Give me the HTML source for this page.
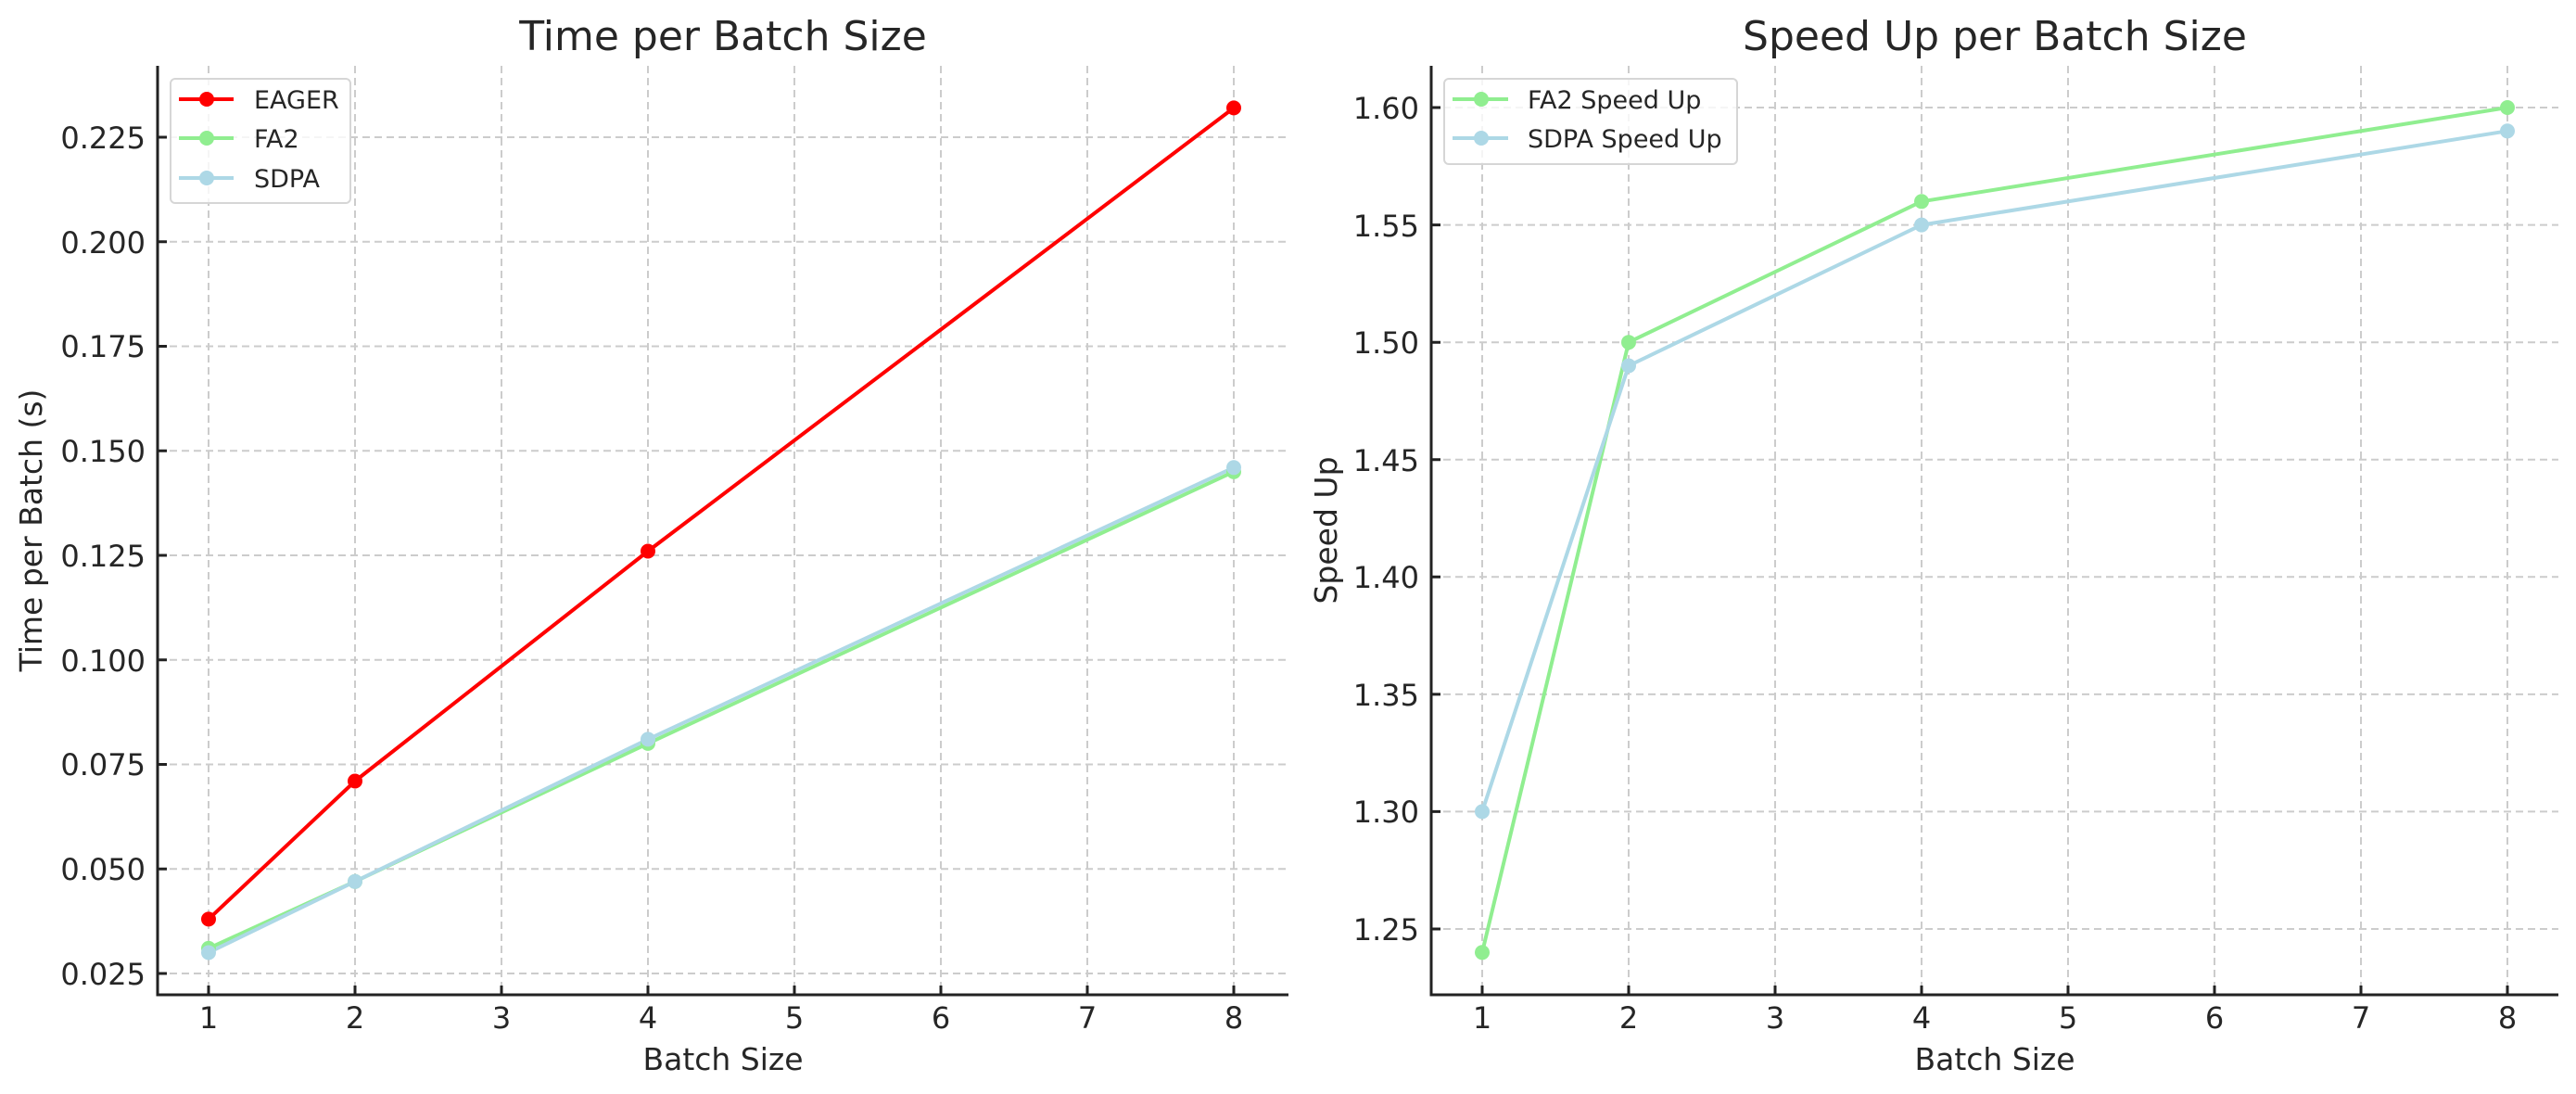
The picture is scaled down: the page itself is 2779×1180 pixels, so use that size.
<!DOCTYPE html>
<html><head><meta charset="utf-8"><style>html,body{margin:0;padding:0;background:#fff}svg{display:block}text{font-family:"DejaVu Sans","Liberation Sans",sans-serif;fill:#262626}</style></head><body>
<svg width="2779" height="1180" viewBox="0 0 2779 1180" xmlns="http://www.w3.org/2000/svg">
<g stroke="#cccccc" stroke-width="2" stroke-dasharray="8,5" fill="none">
<path d="M225 71V1073M383 71V1073M541 71V1073M699 71V1073M857 71V1073M1015 71V1073M1173 71V1073M1331 71V1073"/>
<path d="M170 1050H1390M170 937.25H1390M170 824.5H1390M170 711.75H1390M170 599H1390M170 486.25H1390M170 373.5H1390M170 260.75H1390M170 148H1390"/>
<path d="M1599 71V1073M1757 71V1073M1915 71V1073M2073 71V1073M2231 71V1073M2389 71V1073M2547 71V1073M2705 71V1073"/>
<path d="M1544 1002H2760M1544 875.4H2760M1544 748.9H2760M1544 622.3H2760M1544 495.7H2760M1544 369.2H2760M1544 242.6H2760M1544 116H2760"/>
</g>
<g stroke="#222" stroke-width="3" fill="none">
<path d="M170 71V1073H1390"/>
<path d="M1544 71V1073H2760"/>
<path d="M170 1050h10M170 937.25h10M170 824.5h10M170 711.75h10M170 599h10M170 486.25h10M170 373.5h10M170 260.75h10M170 148h10"/>
<path d="M225 1073v-10M383 1073v-10M541 1073v-10M699 1073v-10M857 1073v-10M1015 1073v-10M1173 1073v-10M1331 1073v-10"/>
<path d="M1544 1002h10M1544 875.4h10M1544 748.9h10M1544 622.3h10M1544 495.7h10M1544 369.2h10M1544 242.6h10M1544 116h10"/>
<path d="M1599 1073v-10M1757 1073v-10M1915 1073v-10M2073 1073v-10M2231 1073v-10M2389 1073v-10M2547 1073v-10M2705 1073v-10"/>
</g>
<!-- left series -->
<g stroke-width="4" fill="none" stroke-linejoin="round">
<polyline stroke="#ff0000" points="225,991.4 383,842.5 699,594.5 1331,116.4"/>
<polyline stroke="#90ee90" points="225,1022.9 383,950.8 699,801.9 1331,508.8"/>
<polyline stroke="#add8e6" points="225,1027.5 383,950.8 699,797.4 1331,504.3"/>
<polyline stroke="#90ee90" points="1599,1027.3 1757,369.2 2073,217.3 2705,116"/>
<polyline stroke="#add8e6" points="1599,875.4 1757,394.5 2073,242.6 2705,141.3"/>
</g>
<g fill="#ff0000"><circle cx="225" cy="991.4" r="8"/><circle cx="383" cy="842.5" r="8"/><circle cx="699" cy="594.5" r="8"/><circle cx="1331" cy="116.4" r="8"/></g>
<g fill="#90ee90"><circle cx="225" cy="1022.9" r="8"/><circle cx="383" cy="950.8" r="8"/><circle cx="699" cy="801.9" r="8"/><circle cx="1331" cy="508.8" r="8"/></g>
<g fill="#add8e6"><circle cx="225" cy="1027.5" r="8"/><circle cx="383" cy="950.8" r="8"/><circle cx="699" cy="797.4" r="8"/><circle cx="1331" cy="504.3" r="8"/></g>
<g fill="#90ee90"><circle cx="1599" cy="1027.3" r="8"/><circle cx="1757" cy="369.2" r="8"/><circle cx="2073" cy="217.3" r="8"/><circle cx="2705" cy="116" r="8"/></g>
<g fill="#add8e6"><circle cx="1599" cy="875.4" r="8"/><circle cx="1757" cy="394.5" r="8"/><circle cx="2073" cy="242.6" r="8"/><circle cx="2705" cy="141.3" r="8"/></g>
<!-- tick labels -->
<g font-size="32" text-anchor="end">
<text x="157" y="1062">0.025</text><text x="157" y="949">0.050</text><text x="157" y="836">0.075</text><text x="157" y="724">0.100</text><text x="157" y="611">0.125</text><text x="157" y="498">0.150</text><text x="157" y="385">0.175</text><text x="157" y="273">0.200</text><text x="157" y="160">0.225</text>
<text x="1531" y="1014">1.25</text><text x="1531" y="887">1.30</text><text x="1531" y="761">1.35</text><text x="1531" y="634">1.40</text><text x="1531" y="508">1.45</text><text x="1531" y="381">1.50</text><text x="1531" y="255">1.55</text><text x="1531" y="128">1.60</text>
</g>
<g font-size="32" text-anchor="middle">
<text x="225" y="1109">1</text><text x="383" y="1109">2</text><text x="541" y="1109">3</text><text x="699" y="1109">4</text><text x="857" y="1109">5</text><text x="1015" y="1109">6</text><text x="1173" y="1109">7</text><text x="1331" y="1109">8</text>
<text x="1599" y="1109">1</text><text x="1757" y="1109">2</text><text x="1915" y="1109">3</text><text x="2073" y="1109">4</text><text x="2231" y="1109">5</text><text x="2389" y="1109">6</text><text x="2547" y="1109">7</text><text x="2705" y="1109">8</text>
</g>
<g font-size="33" text-anchor="middle">
<text x="780" y="1154">Batch Size</text>
<text x="2152" y="1154">Batch Size</text>
<text transform="translate(45,572) rotate(-90)">Time per Batch (s)</text>
<text transform="translate(1442,572) rotate(-90)">Speed Up</text>
</g>
<g font-size="44" text-anchor="middle">
<text x="780" y="54">Time per Batch Size</text>
<text x="2152" y="54">Speed Up per Batch Size</text>
</g>
<!-- legends -->
<rect x="184" y="85" width="194" height="134" rx="5" fill="#fff" fill-opacity="0.8" stroke="#d6d6d6" stroke-width="2"/>
<g stroke-width="4"><path d="M193 107H252" stroke="#ff0000"/><path d="M193 149H252" stroke="#90ee90"/><path d="M193 192H252" stroke="#add8e6"/></g>
<circle cx="223" cy="107" r="8" fill="#ff0000"/><circle cx="223" cy="149" r="8" fill="#90ee90"/><circle cx="223" cy="192" r="8" fill="#add8e6"/>
<g font-size="27"><text x="274" y="117">EAGER</text><text x="274" y="159">FA2</text><text x="274" y="202">SDPA</text></g>
<rect x="1558" y="85" width="316" height="92" rx="5" fill="#fff" fill-opacity="0.8" stroke="#d6d6d6" stroke-width="2"/>
<g stroke-width="4"><path d="M1567 107H1627" stroke="#90ee90"/><path d="M1567 149H1627" stroke="#add8e6"/></g>
<circle cx="1598" cy="107" r="8" fill="#90ee90"/><circle cx="1598" cy="149" r="8" fill="#add8e6"/>
<g font-size="27"><text x="1648" y="117">FA2 Speed Up</text><text x="1648" y="159">SDPA Speed Up</text></g>
</svg>
</body></html>
